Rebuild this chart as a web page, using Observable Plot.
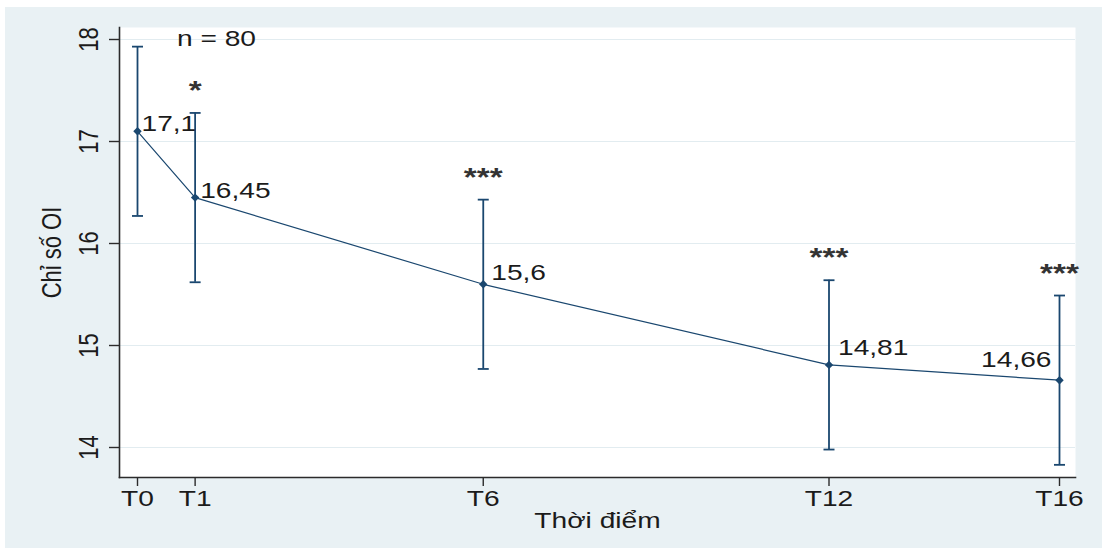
<!DOCTYPE html>
<html>
<head>
<meta charset="utf-8">
<script src="https://cdn.jsdelivr.net/npm/d3@7"></script>
<script src="https://cdn.jsdelivr.net/npm/@observablehq/plot@0.6"></script>
<style>
  html, body { margin: 0; padding: 0; background: #ffffff; }
  #chart svg { display: block; clip-path: inset(7px 0 0 5px); }
</style>
</head>
<body>
<div id="chart"></div>
<script>
// Mean OI index with 95% CI at each follow-up visit (n = 80)
const timepoints = ["T0", "T1", "T6", "T12", "T16"];
const months = [0, 1, 6, 12, 16];
const means = [17.1, 16.45, 15.6, 14.81, 14.66];
const lower = [16.27, 15.62, 14.77, 13.98, 13.83];
const upper = [17.93, 17.28, 16.43, 15.64, 15.49];
const significance = ["", "*", "***", "***", "***"];
const yTicks = [14, 15, 16, 17, 18];
const sampleNote = "n = 80";
const xTitle = "Thời điểm";
const yTitle = "Chỉ số OI";

const navy = "#1a476f";
const ink = "#1b1b1b";
const wideText = 1.28; // horizontal stretch of all lettering

const rows = timepoints.map((t, i) => ({
  time: t,
  month: months[i],
  mean: means[i],
  lower: lower[i],
  upper: upper[i],
  stars: significance[i],
  label: String(means[i]).replace(".", ",")
}));

// marker-label placement per visit
const labelPlacement = {
  T0: {dx: 4, dy: 0, textAnchor: "start"},
  T1: {dx: 5, dy: 0, textAnchor: "start"},
  T6: {dx: 8, dy: -4, textAnchor: "start"},
  T12: {dx: 9, dy: -10, textAnchor: "start"},
  T16: {dx: -8, dy: -13, textAnchor: "end"}
};

// horizontal cap for the CI whiskers
const capSymbol = {
  draw(ctx, size) {
    const r = Math.sqrt(size / Math.PI);
    ctx.moveTo(-r, 0);
    ctx.lineTo(r, 0);
  }
};

const chart = Plot.plot({
  width: 1102,
  height: 548,
  marginLeft: 119,
  marginRight: 27,
  marginTop: 27,
  marginBottom: 71,
  insetLeft: 18,
  insetRight: 16,
  insetTop: 12,
  insetBottom: 30,
  style: {
    background: "#e9f1f4",
    fontFamily: "'Liberation Sans', Arial, sans-serif",
    fontSize: "22px",
    color: ink
  },
  x: {domain: [0, 16]},
  y: {domain: [14, 18]},
  marks: [
    Plot.frame({fill: "#ffffff", stroke: "none"}),
    Plot.ruleY(yTicks, {stroke: "#e2ecf0", strokeWidth: 1}),
    Plot.frame({anchor: "left", stroke: "#2b2b2b", strokeWidth: 1.6}),
    Plot.frame({anchor: "bottom", stroke: "#2b2b2b", strokeWidth: 1.6}),
    Plot.axisY({
      ticks: yTicks,
      tickFormat: (d) => String(d),
      tickSize: 10,
      tickPadding: 12,
      tickRotate: -90,
      label: null,
      stroke: "#2b2b2b",
      strokeWidth: 1.4,
      fill: ink
    }),
    Plot.axisX({
      ticks: months,
      tickFormat: (m) => timepoints[months.indexOf(m)],
      tickSize: 9,
      tickPadding: 4,
      label: null,
      stroke: "#2b2b2b",
      strokeWidth: 1.4,
      fill: ink
    }),
    Plot.text([yTitle], {frameAnchor: "left", dx: -59, rotate: -90, textAnchor: "middle", lineAnchor: "bottom", fill: ink}),
    Plot.text([xTitle], {frameAnchor: "bottom", dy: 50, lineAnchor: "bottom", fill: ink}),
    Plot.text([sampleNote], {frameAnchor: "top-left", dx: 97, dy: 18, textAnchor: "middle", lineAnchor: "bottom", fill: ink}),
    // confidence intervals
    Plot.ruleX(rows, {x: "month", y1: "lower", y2: "upper", stroke: navy, strokeWidth: 1.8}),
    Plot.dot(rows, {x: "month", y: "upper", symbol: capSymbol, r: 5.5, stroke: navy, strokeWidth: 1.8, fill: "none"}),
    Plot.dot(rows, {x: "month", y: "lower", symbol: capSymbol, r: 5.5, stroke: navy, strokeWidth: 1.8, fill: "none"}),
    // mean trajectory
    Plot.line(rows, {x: "month", y: "mean", stroke: navy, strokeWidth: 1.2}),
    Plot.dot(rows, {x: "month", y: "mean", symbol: "diamond2", r: 3.8, fill: navy, stroke: "none"}),
    // mean labels
    ...rows.map((r) => Plot.text([r], {
      x: "month", y: "mean", text: "label",
      lineAnchor: "bottom", fill: ink,
      ...labelPlacement[r.time]
    })),
    // significance vs. baseline
    Plot.text(rows, {x: "month", y: "upper", text: "stars", dy: -14, lineAnchor: "bottom", fontSize: 26, fontWeight: "bold", fill: "#333333"})
  ]
});

// widen the lettering (rotated labels are widened across their glyph height)
chart.querySelectorAll("text").forEach((t) => {
  const tr = t.getAttribute("transform");
  if (tr == null) return;
  t.setAttribute("transform", tr + (tr.includes("rotate") ? ` scale(1,${wideText})` : ` scale(${wideText},1)`));
});

document.getElementById("chart").appendChild(chart);
</script>
</body>
</html>
